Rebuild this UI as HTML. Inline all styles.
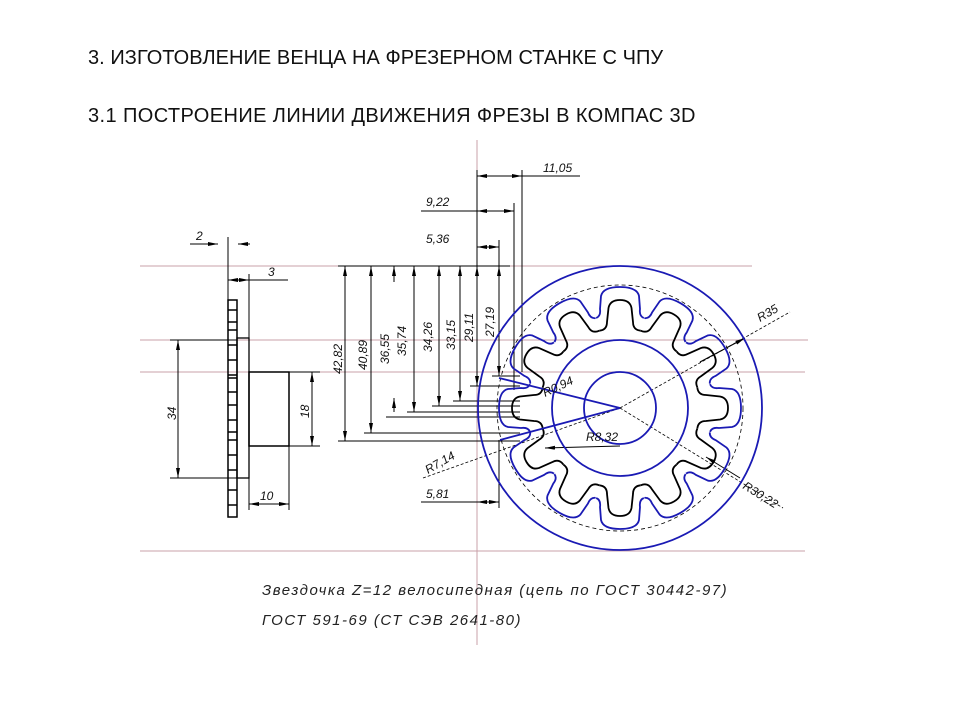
<!DOCTYPE html>
<html><head><meta charset="utf-8"><style>
html,body{margin:0;padding:0;background:#fff;}
body{width:960px;height:720px;overflow:hidden;position:relative;font-family:"Liberation Sans",sans-serif;}
.t{position:absolute;left:88px;font-size:20px;color:#111;}
</style></head><body>
<div class="t" style="top:47px;letter-spacing:0.05px">3. ИЗГОТОВЛЕНИЕ ВЕНЦА НА ФРЕЗЕРНОМ СТАНКЕ С ЧПУ</div>
<div class="t" style="top:105px;letter-spacing:0.4px">3.1 ПОСТРОЕНИЕ ЛИНИИ ДВИЖЕНИЯ ФРЕЗЫ В КОМПАС 3D</div>
<svg width="960" height="720" style="position:absolute;left:0;top:0" xmlns="http://www.w3.org/2000/svg">
<defs>
<marker id="a" viewBox="0 0 10 4" refX="10" refY="2" markerWidth="10" markerHeight="4" orient="auto-start-reverse" markerUnits="userSpaceOnUse"><path d="M0,0L10,2L0,4z" fill="#000"/></marker>
<path id="bt" d="M-20.7,-77.3 Q-13,-78 -13,-86 L-11.5,-100 Q-10,-108 0,-108 Q10,-108 11.5,-100 L13,-86 Q13,-78 20.7,-77.3" fill="none" stroke="#000" stroke-width="1.8"/>
<path id="ut" d="M-23.8,-90 Q-19,-92 -20,-99 L-19,-112 Q-17,-121 0,-121 Q17,-121 19,-112 L20,-99 Q19,-92 23.8,-90" fill="none" stroke="#1a1ab4" stroke-width="1.8"/>
</defs>
<g stroke="#c9a0a8" stroke-width="1">
<line x1="140" y1="266" x2="752" y2="266"/>
<line x1="140" y1="340" x2="808" y2="340"/>
<line x1="140" y1="372" x2="805" y2="372"/>
<line x1="140" y1="551" x2="805" y2="551"/>
<line x1="477" y1="140" x2="477" y2="645"/>
</g>
<g stroke="#000" stroke-width="1" fill="none">
<line x1="228" y1="237" x2="228" y2="517"/>
<rect x="228" y="300" width="9" height="217" stroke-width="1.5"/>
<path d="M228,310h9M228,322h9M228,330h9M228,345h9M228,360h9M228,375h9M228,378h9M228,392h9M228,405h9M228,420h9M228,432h9M228,440h9M228,455h9M228,470h9M228,490h9M228,505h9" stroke-width="1.5"/>
<rect x="237" y="338" width="12" height="140" stroke-width="1.3"/>
<rect x="249" y="372" width="40" height="74" stroke-width="1.5"/>
<line x1="170" y1="340" x2="237" y2="340"/><line x1="170" y1="478" x2="237" y2="478"/>
<line x1="178" y1="340" x2="178" y2="478" marker-start="url(#a)" marker-end="url(#a)"/>
<line x1="289" y1="372" x2="320" y2="372"/><line x1="289" y1="446" x2="320" y2="446"/>
<line x1="312" y1="372" x2="312" y2="446" marker-start="url(#a)" marker-end="url(#a)"/>
<line x1="249" y1="446" x2="249" y2="510"/><line x1="289" y1="446" x2="289" y2="510"/>
<line x1="249" y1="504" x2="289" y2="504" marker-start="url(#a)" marker-end="url(#a)"/>
<line x1="190" y1="244" x2="218" y2="244" marker-end="url(#a)"/><line x1="250" y1="244" x2="238" y2="244" marker-end="url(#a)"/>
<line x1="228" y1="280" x2="288" y2="280"/><line x1="249" y1="274" x2="249" y2="338"/>
<line x1="228" y1="280" x2="249" y2="280" marker-start="url(#a)" marker-end="url(#a)"/>
<line x1="338" y1="266" x2="510" y2="266"/>
<line x1="338" y1="441" x2="520" y2="441"/><line x1="345" y1="266" x2="345" y2="441" marker-start="url(#a)" marker-end="url(#a)"/>
<line x1="364" y1="433" x2="520" y2="433"/><line x1="371" y1="266" x2="371" y2="433" marker-start="url(#a)" marker-end="url(#a)"/>
<line x1="386" y1="417" x2="520" y2="417"/><line x1="394" y1="266" x2="394" y2="282" marker-start="url(#a)"/><line x1="394" y1="398" x2="394" y2="412" marker-start="url(#a)"/>
<line x1="407" y1="412" x2="520" y2="412"/><line x1="414" y1="266" x2="414" y2="412" marker-start="url(#a)" marker-end="url(#a)"/>
<line x1="432" y1="406" x2="520" y2="406"/><line x1="439" y1="266" x2="439" y2="406" marker-start="url(#a)" marker-end="url(#a)"/>
<line x1="453" y1="401" x2="520" y2="401"/><line x1="460" y1="266" x2="460" y2="401" marker-start="url(#a)" marker-end="url(#a)"/>
<line x1="470" y1="386" x2="520" y2="386"/><line x1="477" y1="266" x2="477" y2="386" marker-start="url(#a)" marker-end="url(#a)"/>
<line x1="492" y1="376" x2="520" y2="376"/><line x1="499" y1="266" x2="499" y2="376" marker-start="url(#a)" marker-end="url(#a)"/>
<line x1="477" y1="170" x2="477" y2="266"/><line x1="499" y1="240" x2="499" y2="266"/>
<line x1="514" y1="203" x2="514" y2="390"/><line x1="522" y1="170" x2="522" y2="372"/>
<line x1="522" y1="176" x2="580" y2="176"/>
<line x1="477" y1="176" x2="522" y2="176" marker-start="url(#a)" marker-end="url(#a)"/>
<line x1="421" y1="211" x2="477" y2="211"/>
<line x1="477" y1="211" x2="514" y2="211" marker-start="url(#a)" marker-end="url(#a)"/>
<line x1="477" y1="247" x2="499" y2="247" marker-start="url(#a)" marker-end="url(#a)"/>
<line x1="421" y1="502" x2="477" y2="502"/><line x1="499" y1="440" x2="499" y2="508"/>
<line x1="477" y1="502" x2="499" y2="502" marker-start="url(#a)" marker-end="url(#a)"/>
<line x1="423" y1="478" x2="620" y2="408" stroke-dasharray="3,2" stroke-width="0.8"/>
<line x1="620" y1="408" x2="790" y2="312" stroke-dasharray="3,2" stroke-width="0.8"/>
<line x1="620" y1="408" x2="783" y2="508" stroke-dasharray="3,2" stroke-width="0.8"/>
<line x1="700" y1="362" x2="745" y2="338" marker-end="url(#a)"/>
<line x1="740" y1="478" x2="706" y2="457" marker-end="url(#a)"/>
<line x1="620" y1="446" x2="545" y2="448" marker-end="url(#a)"/>
<circle cx="620" cy="408" r="123" stroke-dasharray="4,3" stroke-width="0.8"/>
</g>
<g transform="translate(620,408)">
<use href="#bt"/><use href="#bt" transform="rotate(30)"/><use href="#bt" transform="rotate(60)"/><use href="#bt" transform="rotate(90)"/><use href="#bt" transform="rotate(120)"/><use href="#bt" transform="rotate(150)"/><use href="#bt" transform="rotate(180)"/><use href="#bt" transform="rotate(210)"/><use href="#bt" transform="rotate(240)"/><use href="#bt" transform="rotate(270)"/><use href="#bt" transform="rotate(300)"/><use href="#bt" transform="rotate(330)"/>
<use href="#ut"/><use href="#ut" transform="rotate(30)"/><use href="#ut" transform="rotate(60)"/><use href="#ut" transform="rotate(90)"/><use href="#ut" transform="rotate(120)"/><use href="#ut" transform="rotate(150)"/><use href="#ut" transform="rotate(180)"/><use href="#ut" transform="rotate(210)"/><use href="#ut" transform="rotate(240)"/><use href="#ut" transform="rotate(270)"/><use href="#ut" transform="rotate(300)"/><use href="#ut" transform="rotate(330)"/>
</g>
<g stroke="#1a1ab4" stroke-width="1.8" fill="none">
<circle cx="620" cy="408" r="142"/>
<circle cx="620" cy="408" r="68"/>
<circle cx="620" cy="408" r="36"/>
<line x1="499" y1="378" x2="620" y2="408"/>
<line x1="500" y1="440" x2="620" y2="408"/>
</g>
<g font-family="Liberation Sans,sans-serif" font-style="italic" font-size="12" fill="#111">
<text x="543" y="172">11,05</text><text x="426" y="206">9,22</text><text x="426" y="243">5,36</text><text x="426" y="498">5,81</text>
<text x="196" y="240">2</text><text x="268" y="276">3</text><text x="260" y="500">10</text>
<text transform="translate(176,420) rotate(-90)">34</text>
<text transform="translate(309,418) rotate(-90)">18</text>
<text transform="translate(342,374) rotate(-90)">42,82</text>
<text transform="translate(367,370) rotate(-90)">40,89</text>
<text transform="translate(389,364) rotate(-90)">36,55</text>
<text transform="translate(406,356) rotate(-90)">35,74</text>
<text transform="translate(432,352) rotate(-90)">34,26</text>
<text transform="translate(455,350) rotate(-90)">33,15</text>
<text transform="translate(473,342) rotate(-90)">29,11</text>
<text transform="translate(494,337) rotate(-90)">27,19</text>
<text transform="translate(428,474) rotate(-30)">R7,14</text>
<text transform="translate(545,397) rotate(-25)">R0,94</text>
<text x="586" y="441">R8,32</text>
<text transform="translate(760,322) rotate(-30)">R35</text>
<text transform="translate(742,488) rotate(32)">R30,22</text>
</g>
<g font-family="Liberation Sans,sans-serif" font-style="italic" font-size="15" fill="#222" letter-spacing="1.5">
<text x="262" y="595">Звездочка Z=12 велосипедная (цепь по ГОСТ 30442-97)</text>
<text x="262" y="625">ГОСТ 591-69 (СТ СЭВ 2641-80)</text>
</g>
</svg>
</body></html>
